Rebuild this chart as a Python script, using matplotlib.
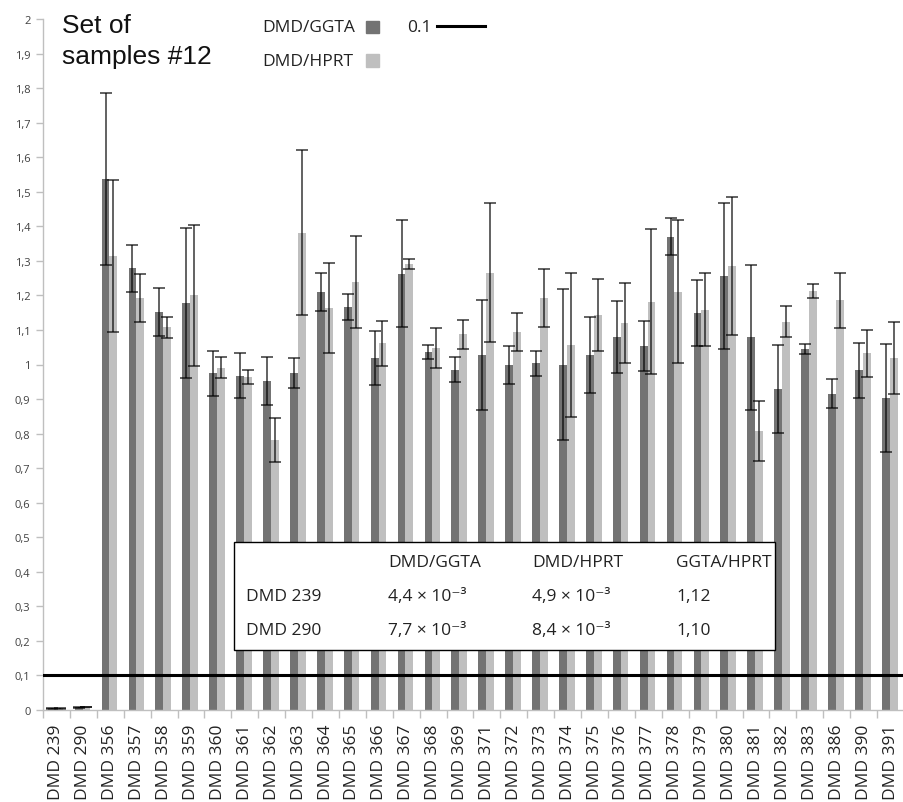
import numpy as np
import matplotlib
matplotlib.use("Agg")
import matplotlib.pyplot as plt
from matplotlib.patches import Rectangle
from matplotlib.lines import Line2D

W, H = 904, 803

samples = ["DMD 239", "DMD 290", "DMD 356", "DMD 357", "DMD 358", "DMD 359",
           "DMD 360", "DMD 361", "DMD 362", "DMD 363", "DMD 364", "DMD 365",
           "DMD 366", "DMD 367", "DMD 368", "DMD 369", "DMD 371", "DMD 372",
           "DMD 373", "DMD 374", "DMD 375", "DMD 376", "DMD 377", "DMD 378",
           "DMD 379", "DMD 380", "DMD 381", "DMD 382", "DMD 383", "DMD 386",
           "DMD 390", "DMD 391"]

ggta = [0.0044, 0.0077, 1.537, 1.278, 1.152, 1.178, 0.975, 0.968, 0.953, 0.975,
        1.210, 1.167, 1.020, 1.263, 1.035, 0.985, 1.027, 0.998, 1.003, 1.000,
        1.028, 1.080, 1.053, 1.370, 1.150, 1.256, 1.079, 0.928, 1.045, 0.916,
        0.983, 0.903]
ggta_err = [0.001, 0.001, 0.25, 0.067, 0.07, 0.216, 0.065, 0.065, 0.07, 0.044,
            0.054, 0.038, 0.078, 0.154, 0.02, 0.036, 0.16, 0.055, 0.037, 0.218,
            0.11, 0.105, 0.073, 0.054, 0.096, 0.212, 0.21, 0.127, 0.015, 0.043,
            0.08, 0.156]

hprt = [0.0049, 0.0084, 1.313, 1.193, 1.108, 1.200, 0.991, 0.965, 0.781, 1.382,
        1.163, 1.240, 1.061, 1.291, 1.048, 1.087, 1.266, 1.094, 1.192, 1.057,
        1.143, 1.120, 1.182, 1.210, 1.159, 1.285, 0.807, 1.124, 1.212, 1.186,
        1.032, 1.020]
hprt_err = [0.001, 0.001, 0.22, 0.07, 0.03, 0.205, 0.03, 0.02, 0.063, 0.24,
            0.13, 0.133, 0.064, 0.015, 0.057, 0.042, 0.2, 0.055, 0.083, 0.209,
            0.104, 0.115, 0.21, 0.207, 0.105, 0.2, 0.087, 0.045, 0.02, 0.08,
            0.067, 0.104]

threshold = 0.1

table_cols = ["DMD/GGTA", "DMD/HPRT", "GGTA/HPRT"]
table_rows = ["DMD 239", "DMD 290"]
table_vals = [["4,4 × 10⁻³", "4,9 × 10⁻³", "1,12"],
              ["7,7 × 10⁻³", "8,4 × 10⁻³", "1,10"]]

DARK = "#737373"
LIGHT = "#bfbfbf"
FONT = ["Open Sans", "DejaVu Sans"]


def fx(x):
    return x / W


def fy(y):
    return 1 - y / H


fig = plt.figure(figsize=(W / 100, H / 100), dpi=100)
ax = fig.add_axes([fx(43), fy(711), 1 - fx(43), fy(20) - fy(711)])

x = np.arange(len(samples))
bw = 0.29
ekw = dict(ecolor="black", elinewidth=1.4, capsize=4, capthick=1.4, alpha=0.62)
ax.bar(x - bw / 2 - 0.03, ggta, bw, color=DARK, yerr=ggta_err, error_kw=ekw, zorder=2)
ax.bar(x + bw / 2 - 0.03, hprt, bw, color=LIGHT, yerr=hprt_err, error_kw=ekw, zorder=2)

ax.axhline(threshold, color="black", lw=2.2, zorder=3)

ax.set_ylim(0, 2)
ax.set_xlim(-0.5, 30.95)
yt = np.round(np.arange(0, 2.01, 0.1), 1)
ax.set_yticks(yt)
ax.set_yticklabels([("%.1f" % v).replace(".", ",").replace(",0", "") for v in yt],
                   fontsize=8, color="#404040", family=FONT)
ax.set_xticks(x)
ax.set_xticklabels(samples, rotation=90, fontsize=12.5, color="#222222", family=FONT)
ax.set_xticks(np.arange(-0.5, len(samples), 1), minor=True)
ax.tick_params(axis="x", which="major", length=0, pad=10)
ax.tick_params(axis="x", which="minor", length=6, color="#bfbfbf", width=1)
ax.tick_params(axis="y", length=5, color="#bfbfbf", width=1, pad=4)
for s in ["top", "right"]:
    ax.spines[s].set_visible(False)
for s in ["left", "bottom"]:
    ax.spines[s].set_color("#bfbfbf")
    ax.spines[s].set_linewidth(1)

# title
fig.text(fx(62), fy(33), "Set of", fontsize=19, family="Liberation Sans",
         va="baseline", ha="left", color="#111111")
fig.text(fx(62), fy(64), "samples #12", fontsize=19, family="Liberation Sans",
         va="baseline", ha="left", color="#111111")

# legend
fig.text(fx(262), fy(28), "DMD/GGTA", fontsize=12.5, family=FONT, va="center",
         color="#222222")
fig.text(fx(262), fy(62), "DMD/HPRT", fontsize=12.5, family=FONT, va="center",
         color="#222222")
fig.patches.append(Rectangle((fx(366), fy(34)), fx(13), 12 / H, color=DARK,
                             transform=fig.transFigure, figure=fig))
fig.patches.append(Rectangle((fx(366), fy(68)), fx(13), 13 / H, color=LIGHT,
                             transform=fig.transFigure, figure=fig))
fig.text(fx(407), fy(28), "0.1", fontsize=12.5, family=FONT, va="center",
         color="#222222")
fig.lines.append(Line2D([fx(437), fx(485)], [fy(27), fy(27)], color="black",
                        lw=2.2, transform=fig.transFigure, figure=fig))

# inset table
fig.patches.append(Rectangle((fx(234), fy(651)), fx(775 - 234), (651 - 543) / H,
                             facecolor="white", edgecolor="black", lw=1,
                             transform=fig.transFigure, figure=fig, zorder=5))
col_x = [388, 532, 676]
row_y = [597, 631]
for cx, name in zip(col_x, table_cols):
    fig.text(fx(cx), fy(563), name, fontsize=12.5, family=FONT, va="center",
             color="#222222", zorder=6)
for ry, rname, vals in zip(row_y, table_rows, table_vals):
    fig.text(fx(246), fy(ry), rname, fontsize=12.5, family=FONT, va="center",
             color="#222222", zorder=6)
    for cx, v in zip(col_x, vals):
        fig.text(fx(cx), fy(ry), v, fontsize=12.5, family=FONT, va="center",
                 color="#222222", zorder=6)

fig.savefig("out.png", dpi=100)
